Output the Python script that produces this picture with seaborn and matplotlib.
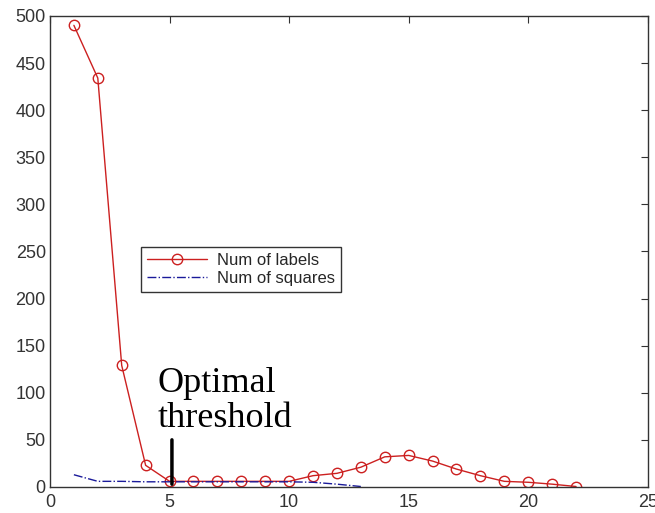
import matplotlib
matplotlib.use("Agg")
import matplotlib.pyplot as plt
import seaborn as sns
import pandas as pd

# values
label_x = list(range(1, 23))
num_labels = [490, 434, 129, 23, 6, 6, 6, 6, 6, 6, 12, 14.5, 21, 32, 33.5, 27.5,
              19, 12, 6, 5, 3, 0.5]
square_x = list(range(1, 14))
num_squares = [13, 6, 6, 5.5, 5.5, 5.5, 5.5, 5.5, 5.5, 5.5, 5, 3, 0.5]

sns.set_style("white")
plt.rcParams['font.family'] = ['Liberation Sans', 'DejaVu Sans']

labels_df = pd.DataFrame({"x": label_x, "y": num_labels})
squares_df = pd.DataFrame({"x": square_x, "y": num_squares})

fig = plt.figure(figsize=(6.55, 5.13), dpi=100)
ax = fig.add_axes([0.0763, 0.0507, 0.9127, 0.9183])

sns.lineplot(data=labels_df, x="x", y="y", ax=ax, color="#cc2020", lw=1.0,
             marker="o", markersize=7.5, markerfacecolor="none",
             markeredgecolor="#cc2020", markeredgewidth=1.0, label="Num of labels")
sns.lineplot(data=squares_df, x="x", y="y", ax=ax, color="#1a1a9a", lw=1.0,
             linestyle="-.", label="Num of squares")

ax.set_xlim(0, 25)
ax.set_ylim(0, 500)
ax.set_xticks(range(0, 26, 5))
ax.set_yticks(range(0, 501, 50))
ax.set_xlabel("")
ax.set_ylabel("")
ax.tick_params(direction="in", top=True, right=True, length=5, labelsize=13,
               labelcolor="#333333", color="#333333", pad=3)
ax.tick_params(axis="x", pad=5)
for s in ax.spines.values():
    s.set_color("#333333")
    s.set_linewidth(1.0)

leg = ax.legend(loc="upper left", bbox_to_anchor=(0.152, 0.51), fontsize=12,
                frameon=True, fancybox=False, edgecolor="black",
                borderpad=0.35, handlelength=3.6, handletextpad=0.6,
                labelspacing=0.2, borderaxespad=0)
leg.get_frame().set_linewidth(1.0)

# annotation
ax.annotate("", xy=(5.1, 0), xytext=(5.1, 53),
            arrowprops=dict(arrowstyle="-", color="black", lw=2.5))
ax.text(4.5, 55, "Optimal\nthreshold", fontsize=26, family="Liberation Serif",
        color="black", ha="left", va="bottom", linespacing=1.1)

fig.savefig("out.png", dpi=100)
